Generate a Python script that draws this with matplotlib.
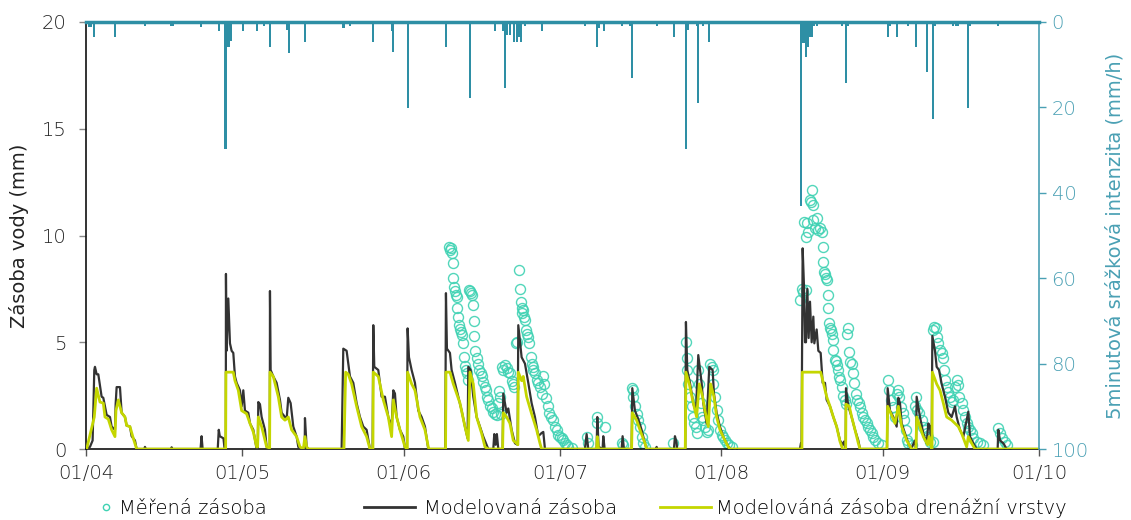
import matplotlib
matplotlib.use("Agg")
import matplotlib.pyplot as plt
import matplotlib.dates as mdates
from matplotlib.lines import Line2D
import pandas as pd

plt.rcParams['font.family'] = ['DejaVu Sans']
plt.rcParams['font.weight'] = 'light'

START = pd.Timestamp('2021-04-01')
END = pd.Timestamp('2021-10-01')
month_ticks = pd.date_range(START, END, freq='MS')

# ---- Modelled storage (days since 1 April, mm) ----
model_day = [0, 0.77, 1.28, 1.6, 1.73, 2.05, 2.37, 3.01, 3.33, 3.97, 4.61, 4.93, 5.57, 5.70, 5.89, 6.53, 6.85, 7.49, 7.81, 8.45, 8.77, 9.41, 9.73,
             11.2, 11.33, 11.5, 16.3, 16.45, 16.6, 22.0, 22.2, 22.4, 25.3, 25.5, 25.7, 26.4, 26.6, 26.85,
             26.88, 27.0, 27.33, 27.65, 27.97, 28.29, 28.61, 28.93, 29.57, 29.89, 30.21, 30.53, 31.17, 31.49, 32.13, 32.77, 33.0, 33.09, 33.41, 33.73, 34.37, 34.69, 35.3,
             35.33, 35.46, 35.97, 36.61, 37.25, 37.57, 38.21, 38.53, 38.85, 39.3, 39.81, 40.45, 40.77, 41.2, 42.0, 42.05, 42.37, 42.7,
             49.09, 49.41, 50.05, 50.69, 51.33, 51.97, 52.61, 53.25, 53.89, 54.53, 55.04, 55.17, 55.36, 56.13, 56.77, 57.41, 58.05, 58.69, 59.01, 59.33, 59.65, 60.29, 60.93, 61.25, 61.63, 61.76, 62.02, 62.53, 63.17, 63.81, 64.45, 65.09, 65.73,
             68.99, 69.12, 69.31, 69.89, 70.21, 70.85, 71.49, 72.13, 72.77, 73.28, 73.41, 73.86, 74.37, 75.01, 75.65, 76.29, 77.25,
             78.21, 78.4, 78.66, 78.9, 79.17, 80.0, 80.13, 80.77, 81.09, 81.73, 82.37, 82.88, 83.01, 83.65, 84.29, 84.93, 85.57, 86.21, 86.85, 87.49, 87.81, 88.13,
             95.81, 96.13, 96.45, 98.05, 98.18, 98.43, 99.2, 99.33, 99.59, 102.85, 103.04, 103.3, 104.77, 104.9, 105.41, 106.05, 106.69, 107.33, 107.65,
             109.44, 109.57, 109.7, 112.9, 113.09, 113.41, 113.5, 115.07, 115.2, 115.46, 115.97, 116.61, 117.12, 117.57, 118.21, 118.53, 119.17, 119.68, 120.32, 120.58, 121.09, 121.73, 122.37, 123.01, 123.65,
             137.09, 137.28, 137.4, 137.61, 137.87, 138.06, 138.25, 138.51, 138.76, 139.02, 139.34, 139.66, 139.85, 140.3, 140.62, 141.07, 141.45, 141.9, 142.22, 142.86, 143.5, 144.14, 144.78, 145.29, 145.55, 145.74, 145.87, 145.93, 146.38, 147.02, 147.66, 148.3, 148.62,
             153.8, 153.93, 154.38, 155.02, 155.66, 155.98, 156.3, 156.62, 157.26, 157.9, 158.41, 159.18, 159.37, 159.5, 160.14, 160.78, 161.42, 161.74, 162.06, 162.38, 162.51, 163.02, 163.34, 163.79, 164.3, 164.94, 165.58, 166.22, 166.86, 167.18, 167.82, 168.46, 169.42, 169.74, 170.38, 171.02,
             175.05, 175.18, 175.5, 176.14, 176.78, 183]
model_val = [0, 0.1, 0.4, 3.7, 3.85, 3.5, 3.5, 2.45, 2.4, 1.6, 1.5, 1.05, 0.9, 2.1, 2.9, 2.9, 1.7, 1.5, 1.1, 1.05, 0.6, 0.4, 0,
             0, 0.1, 0, 0, 0.08, 0, 0, 0.6, 0, 0, 0.9, 0.6, 0.5, 0.05, 0.05,
             8.2, 4.6, 7.05, 4.95, 4.6, 4.5, 3.4, 3.1, 2.75, 2.0, 2.75, 1.8, 1.7, 1.2, 0.9, 0, 0, 2.2, 2.1, 1.5, 0.9, 0.1, 0,
             7.4, 3.7, 3.4, 3.1, 2.3, 1.7, 1.5, 1.4, 2.4, 2.15, 1.05, 0.58, 0.1, 0, 0, 1.45, 0.1, 0,
             0, 4.7, 4.6, 3.4, 3.1, 2.15, 1.5, 1.05, 0.9, 0, 0, 5.8, 3.85, 3.7, 2.45, 2.45, 1.5, 1.05, 2.75, 2.6, 1.5, 0.9, 0.58, 0, 0, 5.65, 4.3, 3.7, 3.1, 1.8, 1.5, 1.05, 0,
             0, 7.3, 4.7, 4.5, 3.7, 3.1, 2.45, 1.8, 1.05, 0.5, 3.85, 3.7, 2.45, 1.5, 1.05, 0.58, 0,
             0, 0.7, 0.2, 0.7, 0, 0, 2.6, 1.7, 1.9, 0.9, 0.27, 0.2, 5.8, 4.3, 4.0, 3.1, 2.15, 1.5, 0.6, 0.75, 0.8, 0,
             0, 0.7, 0, 0, 1.5, 0.1, 0, 0.6, 0, 0, 0.6, 0, 0, 2.85, 1.8, 1.4, 0.9, 0.27, 0,
             0, 0.1, 0, 0, 0.6, 0.3, 0, 0, 5.95, 3.7, 3.1, 2.15, 1.7, 4.4, 3.1, 2.15, 1.2, 3.85, 3.7, 2.6, 1.7, 1.05, 0.58, 0.27, 0,
             0, 0.27, 0.27, 9.4, 7.6, 5.0, 5.0, 7.5, 5.2, 6.9, 5.0, 6.2, 4.95, 5.6, 4.6, 4.5, 3.1, 3.1, 2.3, 2.0, 1.5, 1.05, 0.4, 0.2, 0.35, 0.1, 0, 2.85, 2.0, 1.5, 0.9, 0.4, 0,
             0, 2.85, 1.8, 1.5, 1.05, 2.4, 2.15, 1.2, 0.73, 0.27, 0, 0.4, 0, 2.45, 1.5, 0.73, 0.27, 1.2, 1.05, 0.1, 5.3, 4.6, 3.85, 3.7, 3.05, 2.45, 1.7, 1.5, 2.0, 1.5, 0.9, 0.58, 1.75, 0.58, 0.27, 0,
             0, 0.9, 0.4, 0.27, 0, 0]

# ---- Modelled storage of the drainage layer ----
drain_day = [0, 0.13, 1.6, 2.05, 2.69, 3.33, 3.65, 4.29, 4.93, 5.57, 5.76, 6.21, 6.85, 7.49, 7.81, 8.45, 9.09, 9.73,
             26.82, 26.88, 28.29, 28.61, 29.25, 29.89, 30.85, 31.49, 32.13, 32.77, 32.96, 33.09, 33.73, 34.69, 35.27,
             35.33, 35.97, 36.93, 37.57, 38.21, 38.85, 39.49, 40.45, 41.09, 41.73, 42.05, 42.37, 42.7,
             49.54, 49.86, 50.37, 51.01, 51.97, 52.93, 53.89, 54.53, 55.1, 55.17, 56.13, 57.09, 58.05, 58.69, 59.01, 59.65, 60.29, 61.25, 61.7, 61.76, 62.53, 63.17, 64.13, 65.09, 65.73, 65.86,
             69.05, 69.12, 69.89, 70.53, 71.17, 71.81, 72.77, 73.41, 73.73, 74.37, 75.01, 75.97, 76.61, 77.25,
             80.0, 80.13, 80.77, 81.41, 82.05, 82.69, 82.94, 83.01, 83.65, 83.97, 84.61, 85.57, 86.53, 87.17, 87.49,
             98.05, 98.18, 98.43, 104.77, 104.9, 105.73, 106.37, 107.33, 107.65,
             115.07, 115.2, 115.84, 116.61, 117.25, 117.76, 118.4, 118.85, 119.49, 119.94, 120.58, 121.09, 121.73, 122.69, 123.33, 123.65,
             137.47, 137.54, 141.07, 141.58, 142.22, 142.86, 143.5, 144.14, 144.78, 145.29, 145.87, 145.93, 146.57, 147.02, 147.66, 148.3, 148.62,
             153.8, 153.93, 154.57, 155.34, 155.98, 156.62, 157.58, 158.54, 159.37, 159.5, 160.14, 160.78, 161.61, 161.87, 162.38,
             162.45, 162.51, 163.34, 163.98, 164.62, 165.26, 166.22, 166.86, 167.5, 168.14, 169.1, 169.42, 170.06, 170.7, 183]
drain_val = [0, 0, 1.5, 2.85, 2.2, 2.15, 1.5, 1.4, 0.9, 0.58, 1.8, 2.3, 1.7, 1.5, 1.1, 1.05, 0.5, 0,
             0, 3.6, 3.6, 3.2, 2.75, 1.8, 1.65, 1.2, 0.8, 0.1, 0.1, 1.5, 1.05, 0.1, 0.05,
             3.6, 3.4, 2.45, 1.5, 1.35, 1.5, 0.9, 0.58, 0.1, 0, 0.58, 0.1, 0,
             0, 3.6, 3.5, 3.05, 2.0, 1.05, 0.58, 0, 0, 3.6, 3.4, 2.3, 1.5, 0.58, 2.3, 1.5, 0.9, 0.1, 0, 3.6, 3.05, 2.75, 1.5, 0.9, 0.1, 0,
             0, 3.6, 3.6, 3.05, 2.6, 2.15, 1.05, 0.4, 3.6, 3.05, 1.5, 0.73, 0.1, 0,
             0, 1.7, 1.5, 1.2, 0.4, 0.27, 0.2, 3.6, 3.2, 3.4, 2.45, 1.65, 0.9, 0.27, 0,
             0, 0.58, 0, 0, 1.7, 1.35, 0.9, 0.27, 0,
             0, 3.6, 3.05, 2.15, 1.5, 3.05, 2.45, 1.8, 1.05, 3.05, 2.45, 1.5, 0.9, 0.4, 0.1, 0,
             0, 3.6, 3.6, 3.1, 2.45, 2.0, 1.5, 1.05, 0.35, 0, 0, 2.1, 2.0, 1.5, 0.9, 0.27, 0,
             0, 2.0, 1.65, 1.2, 2.0, 1.05, 0.4, 0, 0, 1.5, 1.05, 0.58, 0.2, 0.58, 0,
             0, 3.6, 3.05, 2.75, 2.15, 1.5, 1.35, 1.2, 1.05, 0.73, 0.1, 0.58, 0.27, 0, 0]

# ---- Measured storage (open circles) ----
meas_day = [69.7, 70.08, 69.89, 70.21, 70.4, 70.53, 70.72, 70.85, 71.04, 71.17, 71.3, 71.49, 71.68, 71.81, 72.0, 72.13, 72.32, 72.64, 72.77, 72.96, 73.09, 73.28,
            73.6, 73.73, 73.86, 74.05, 74.37, 74.5, 74.56, 74.69, 75.01, 75.33, 75.52, 75.78, 75.97, 76.29, 76.61, 76.8, 77.06, 77.25, 77.57, 77.89, 78.21, 78.53, 78.85, 79.17, 79.3, 79.49, 79.68,
            79.81, 80.13, 80.45, 80.77, 81.09, 81.41, 81.73, 82.05, 82.24, 82.56, 82.69,
            83.14, 83.33, 83.52, 83.65, 83.78, 83.97, 84.16, 84.29, 84.48, 84.61, 84.93, 85.12, 85.44, 85.57, 85.76, 85.89, 86.21, 86.53, 86.85, 87.17, 87.49, 87.81, 88.0, 88.26, 88.64, 88.9, 89.28, 89.73, 90.05, 90.37, 90.69, 91.01, 91.33, 91.65, 91.97, 92.29, 92.61,
            93.25, 96.13, 96.45, 98.05, 98.18, 99.65, 102.85, 103.17, 104.77, 104.96, 105.09, 105.41, 105.73, 106.05, 106.37, 106.69, 107.01, 107.33, 112.77,
            115.2, 115.33, 115.46, 115.65, 115.97, 116.29, 116.61, 116.8, 117.06, 117.25, 117.57, 117.76, 118.02, 118.27, 118.53, 118.85, 119.17, 119.49,
            119.81, 120.13, 120.32, 120.45, 120.77, 121.09, 121.41, 121.73, 122.05, 122.37, 122.69, 123.01, 123.52, 123.97,
            137.1, 137.42, 137.74, 138.25, 137.93, 138.19, 138.38, 138.7, 139.02, 139.15, 139.34, 139.53, 139.66, 139.98, 140.3, 140.62, 140.94, 141.26,
            141.45, 141.58, 141.71, 141.9, 142.09, 142.22, 142.41, 142.54, 142.67, 142.86, 143.05, 143.24, 143.37, 143.5, 143.82, 144.01, 144.27, 144.46, 144.65, 144.78, 145.1, 145.42, 145.74, 145.93,
            146.19, 146.38, 146.57, 146.7, 147.02, 147.34, 147.53, 147.85, 148.11, 148.36, 148.62, 148.94, 149.26, 149.58, 149.9, 150.22, 150.54, 150.86, 151.18, 151.5, 152.14, 152.78,
            153.93, 154.25, 154.57, 154.89, 155.34, 155.66, 155.98, 156.17, 156.43, 156.81, 157.07, 157.39, 157.58, 157.9, 158.54,
            159.18, 159.37, 159.63, 160.01, 160.46, 160.78, 161.1, 161.42, 161.74, 162.06, 162.7,
            162.57, 162.83, 163.15, 163.34, 163.66, 163.98, 164.3, 164.49, 164.75, 165.0, 165.26, 165.58, 165.9, 166.22, 166.54, 166.86, 167.18, 167.5, 167.69,
            168.14, 168.46, 168.78, 169.1, 169.42, 169.74, 170.06, 170.38, 171.02, 171.66, 172.17,
            175.18, 175.5, 175.82, 176.46, 176.9]
meas_val = [9.48, 9.4, 9.32, 9.16, 8.7, 7.99, 7.6, 7.42, 7.2, 7.1, 6.6, 6.2, 5.8, 5.6, 5.5, 5.35, 4.95, 4.3, 3.9, 3.7, 3.55, 3.23,
            7.45, 7.4, 7.3, 7.2, 6.75, 6.0, 5.3, 4.6, 4.25, 4.0, 3.7, 3.55, 3.4, 3.15, 2.9, 2.75, 2.45, 2.3, 2.0, 1.9, 1.75, 1.65, 1.6, 2.15, 2.7, 2.45, 1.65,
            3.85, 3.7, 3.95, 3.8, 3.6, 3.55, 3.2, 3.05, 2.9, 4.95, 5.03,
            8.4, 7.5, 6.9, 6.6, 6.35, 6.5, 6.2, 6.05, 5.57, 5.4, 5.25, 4.95, 4.3, 4.0, 3.85, 3.7, 3.55, 3.23, 3.1, 2.9, 2.6, 3.4, 3.05, 2.4, 2.0, 1.7, 1.5, 1.35, 1.05, 0.9, 0.65, 0.58, 0.5, 0.4, 0.27, 0.2, 0.1,
            0.03, 0.58, 0.27, 1.5, 1.2, 1.05, 0.27, 0.2, 2.85, 2.75, 2.45, 2.0, 1.65, 1.35, 1.05, 0.58, 0.27, 0.1, 0.27,
            5.0, 4.25, 3.7, 3.05, 2.45, 2.0, 1.5, 1.2, 1.05, 0.73, 3.7, 3.05, 2.15, 1.5, 1.35, 1.05, 0.8, 0.9,
            4.0, 3.85, 3.7, 3.05, 2.45, 1.82, 1.35, 0.9, 0.65, 0.58, 0.42, 0.27, 0.18, 0.1,
            6.98, 7.5, 7.37, 7.45, 10.65, 9.95, 10.57, 10.18, 11.66, 11.58, 12.13, 11.43, 10.73, 10.33, 10.8, 10.26, 10.33, 10.18,
            8.77, 9.48, 8.3, 8.2, 8.0, 7.9, 7.2, 6.6, 5.9, 5.65, 5.57, 5.4, 5.1, 4.64, 4.17, 4.1, 3.93, 3.7, 3.39, 3.23, 2.9, 2.5, 2.28, 2.1,
            5.4, 5.65, 4.55, 4.07, 3.99, 3.54, 3.07, 2.6, 2.28, 2.14, 1.98, 1.67, 1.5, 1.37, 1.2, 1.05, 0.89, 0.73, 0.58, 0.42, 0.27, 0.19,
            3.23, 2.75, 2.28, 1.98, 1.5, 2.6, 2.75, 2.44, 1.98, 1.67, 1.35, 0.89, 0.42, 0.27, 0.19,
            2.0, 2.45, 1.82, 1.67, 1.35, 1.05, 0.89, 0.73, 0.58, 0.35, 0.35,
            5.57, 5.73, 5.65, 5.26, 4.95, 4.64, 4.49, 4.25, 3.7, 3.23, 2.9, 2.68, 2.44, 2.2, 2.28, 2.9, 3.23, 3.0, 2.44,
            2.14, 1.82, 1.5, 1.2, 1.05, 0.89, 0.73, 0.5, 0.35, 0.27, 0.19,
            0.97, 0.73, 0.5, 0.35, 0.19]

# ---- 5-minute rainfall intensity (mm/h) ----
rain_day = [0.6, 1.0, 1.5, 5.6, 11.3, 16.3, 16.7, 22.1, 25.5, 26.8, 27.1, 27.5, 27.8, 30.1, 32.8, 34.2, 35.3, 38.6, 39.0, 42.1,
            49.3, 49.5, 50.7, 55.1, 58.8, 58.9, 61.8, 69.1, 73.7, 78.5, 80.1, 80.5, 80.8, 81.4, 82.2, 82.8, 83.1, 83.5, 84.3, 87.6,
            95.8, 98.1, 98.5, 99.5, 102.9, 104.5, 104.8, 109.6, 112.9, 115.2, 115.6, 117.3, 117.5, 118.5, 119.6,
            137.3, 137.5, 137.9, 138.2, 138.6, 139.0, 139.4, 139.8, 140.4, 145.2, 145.9, 146.3,
            154.0, 154.4, 155.7, 157.8, 159.4, 161.5, 162.6, 163.0, 166.5, 167.0, 167.4, 169.4, 169.7, 175.1]
rain_val = [1.2, 1.2, 3.4, 3.4, 1.0, 1.0, 1.0, 1.2, 2.2, 29.8, 5.9, 5.9, 4.5, 2.0, 2.0, 1.0, 5.9, 1.8, 7.2, 4.8,
            1.3, 1.3, 1.0, 4.8, 2.0, 7.0, 20.2, 5.9, 17.9, 2.0, 2.0, 15.5, 3.0, 3.0, 4.8, 4.8, 3.5, 4.8, 1.0, 2.0,
            1.0, 5.9, 1.5, 2.0, 1.0, 1.0, 13.0, 1.0, 3.4, 29.8, 1.8, 1.0, 19.0, 1.0, 4.8,
            43.0, 5.0, 5.0, 8.2, 5.9, 3.4, 3.4, 1.0, 1.0, 1.0, 14.4, 1.0,
            3.4, 1.0, 3.4, 1.0, 5.9, 11.8, 22.8, 1.0, 1.0, 1.0, 1.0, 20.2, 1.0, 1.0]

y_ticks = [0, 5, 10, 15, 20]
rain_ticks = [0, 20, 40, 60, 80, 100]

labels = ['Měřená zásoba', 'Modelovaná zásoba', 'Modelováná zásoba drenážní vrstvy']
y_label = 'Zásoba vody (mm)'
rain_label = '5minutová srážková intenzita (mm/h)'

C_RAIN = '#2E8FA5'
C_RAIN_AX = '#4AA0B4'
C_MEAS = '#3FD2B3'
C_MODEL = '#333333'
C_DRAIN = '#C4D600'
C_TEXT = '#222222'
FS = 14


def to_dates(days):
    return START + pd.to_timedelta(days, unit='D')


fig = plt.figure(figsize=(11.31, 5.2), dpi=100)
ax = fig.add_axes([0.0760, 0.1365, 0.8427, 0.8212])

ax.plot(to_dates(meas_day), meas_val, linestyle='none', marker='o', ms=7.2,
        mfc='none', mec=C_MEAS, mew=1.0, alpha=0.9, zorder=2)
ax.plot(to_dates(model_day), model_val, color=C_MODEL, lw=1.6, zorder=3)
ax.plot(to_dates(drain_day), drain_val, color=C_DRAIN, lw=2.0, zorder=4)

ax.set_xlim(START, END)
ax.set_ylim(0, 20)
ax.set_yticks(y_ticks)
ax.set_xticks(month_ticks)
ax.xaxis.set_major_formatter(mdates.DateFormatter('%d/%m'))
ax.tick_params(axis='x', labelsize=FS, labelcolor=C_TEXT, color='#555555', length=5, width=1, pad=6)
ax.tick_params(axis='y', labelsize=FS, labelcolor=C_TEXT, color='#888888', length=5, width=1, pad=9)
ax.set_ylabel(y_label, fontsize=FS, color=C_TEXT, labelpad=9)
for s in ['left', 'bottom']:
    ax.spines[s].set_color('#111111')
    ax.spines[s].set_linewidth(1.2)
ax.spines['top'].set_visible(False)
ax.spines['right'].set_visible(False)

ax2 = ax.twinx()
ax2.bar(to_dates(rain_day), rain_val, width=0.4, color=C_RAIN, align='center', zorder=5)
ax2.set_ylim(100, 0)
ax2.set_yticks(rain_ticks)
ax2.set_xlim(START, END)
ax2.tick_params(axis='y', labelsize=FS, labelcolor=C_RAIN_AX, color=C_RAIN_AX, length=5, width=1, pad=4)
ax2.set_ylabel(rain_label, fontsize=FS, color=C_RAIN_AX, labelpad=12)
ax2.spines['right'].set_color(C_RAIN_AX)
ax2.spines['right'].set_linewidth(1.2)
ax2.spines['top'].set_color(C_RAIN)
ax2.spines['top'].set_linewidth(2.5)
ax2.spines['left'].set_visible(False)
ax2.spines['bottom'].set_visible(False)

h1 = Line2D([], [], linestyle='none', marker='o', ms=4.5, mfc='none', mec=C_MEAS, mew=1.0)
h2 = Line2D([], [], color=C_MODEL, lw=2)
h3 = Line2D([], [], color=C_DRAIN, lw=2)
common = dict(loc='center left', frameon=False, fontsize=FS, borderpad=0, borderaxespad=0)
fig.legend([h1], [labels[0]], bbox_to_anchor=(100 / 1131, 1 - 508 / 520), handlelength=0.6, handletextpad=0.37, **common)
fig.legend([h2], [labels[1]], bbox_to_anchor=(364 / 1131, 1 - 508 / 520), handlelength=2.6, handletextpad=0.5, **common)
fig.legend([h3], [labels[2]], bbox_to_anchor=(660 / 1131, 1 - 508 / 520), handlelength=2.6, handletextpad=0.3, **common)

fig.savefig('out.png', dpi=100)
